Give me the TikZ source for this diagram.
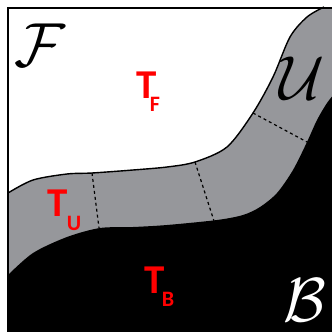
\documentclass[tikz,border=0pt]{standalone}
\usepackage{fontspec}
\newfontfamily\calibri{Carlito}
\definecolor{bandgray}{RGB}{150,151,155}
\definecolor{lblred}{RGB}{255,0,0}
\begin{document}
\begin{tikzpicture}[x=1pt,y=-1pt,
  tlabel/.style={text=lblred, font=\calibri\bfseries\fontsize{41}{41}\selectfont, inner sep=0pt},
  tsub/.style={text=lblred, font=\calibri\bfseries\fontsize{22}{22}\selectfont, inner sep=0pt},
  cal/.style={font=\Huge, inner sep=0pt, scale=2.5},
  cut/.style={dashed, dash pattern=on 3pt off 3pt, line width=1.2pt},
  rim/.style={line width=1.4pt}]
\useasboundingbox (0,0) rectangle (332,332);
\fill[white] (0,0) rectangle (332,332);
% gray band (everything below the upper boundary)
\fill[bandgray] plot[smooth] coordinates {(8,193) (33,180) (67,174) (92,173) (133,170) (167,167) (195,162) (227,147) (253,113) (273,77) (290,37) (307,17) (324,7)} -- (340,7) -- (340,340) -- (8,340) -- cycle;
% black region below the lower boundary
\fill[black] plot[smooth] coordinates {(8,275) (33,253) (67,237) (100,228) (133,227) (167,225) (217,220) (243,215) (260,207) (277,193) (293,170) (307,142) (317,120) (327,103) (335,93)} -- (340,340) -- (8,340) -- cycle;
% upper boundary stroke
\draw[rim] plot[smooth] coordinates {(8,193) (33,180) (67,174) (92,173) (133,170) (167,167) (195,162) (227,147) (253,113) (273,77) (290,37) (307,17) (324,7)};
% dashed cuts
\coordinate (d1a) at (92,173); \coordinate (d1b) at (99,228);
\coordinate (d2a) at (195,162); \coordinate (d2b) at (214,221);
\coordinate (d3a) at (253,113); \coordinate (d3b) at (307,142);
\draw[cut] (d1a) -- (d1b);
\draw[cut] (d2a) -- (d2b);
\draw[cut] (d3a) -- (d3b);
% frame
\draw[line width=1.8pt] (8,8) rectangle (345,345);
% labels
\node[cal] (F) at (40,45) {$\mathcal{F}$};
\node[cal] (U) at (302,78) {$\mathcal{U}$};
\node[cal, text=white] (B) at (305,300) {$\mathcal{B}$};
\node[tlabel] (tf) at (147,85) {T};
\node[tsub] (tfs) at (155,104) {F};
\node[tlabel] (tu) at (58,203) {T};
\node[tsub] (tus) at (74,223) {U};
\node[tlabel] (tb) at (155,280) {T};
\node[tsub] (tbs) at (168,299) {B};
\end{tikzpicture}
\end{document}
